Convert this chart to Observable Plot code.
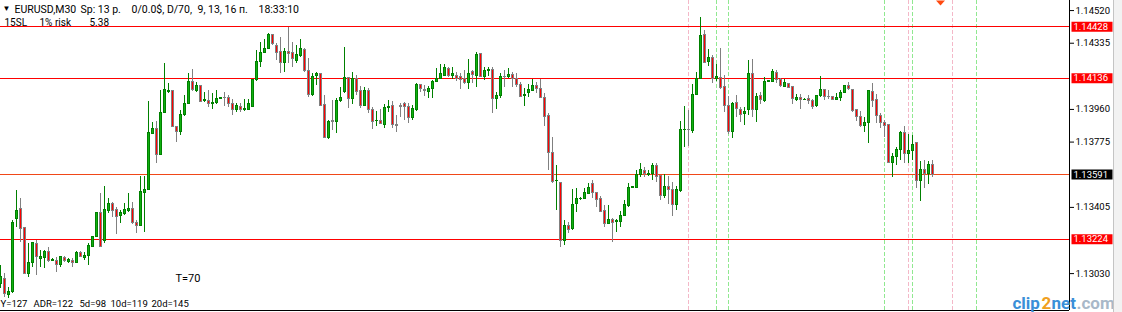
<!DOCTYPE html>
<html><head><meta charset="utf-8">
<script src="https://cdn.jsdelivr.net/npm/d3@7"></script>
<script src="https://cdn.jsdelivr.net/npm/@observablehq/plot@0.6"></script>
<style>
body{margin:0;background:#fff;}
#chart{position:relative;width:1122px;height:312px;overflow:hidden;}
#strip{position:absolute;left:1113px;top:0;width:8px;height:312px;background:#f2f2f2;border-left:1px solid #c4c4c4;}
</style></head><body><div id="chart"><div id="strip"></div></div>
<script>
// EURUSD M30 candles (bar index 0..233), prices
const candleOpen = [
1.12972,1.13000,1.12910,1.12925,1.13340,1.13397,1.13289,1.13029,1.13091,1.13199,
1.13112,1.13117,1.13155,1.13104,1.13104,1.13081,1.13119,1.13098,1.13104,1.13091,
1.13147,1.13119,1.13132,1.13183,1.13236,1.13376,1.13217,1.13387,1.13425,1.13391,
1.13357,1.13368,1.13387,1.13397,1.13317,1.13297,1.13489,1.13504,1.13822,1.13850,
1.13703,1.13942,1.14060,1.14067,1.13859,1.13831,1.13929,1.13992,1.14118,1.14067,
1.14095,1.14007,1.14010,1.13992,1.13995,1.14020,1.14026,1.14026,1.13992,1.13959,
1.13973,1.13954,1.13958,1.13976,1.14124,1.14228,1.14281,1.14303,1.14381,1.14322,
1.14284,1.14224,1.14284,1.14279,1.14237,1.14265,1.14299,1.14179,1.14039,1.14148,
1.14158,1.13986,1.13797,1.13897,1.13891,1.14007,1.14058,1.14139,1.14020,1.14133,
1.14067,1.13982,1.14067,1.13958,1.13893,1.13893,1.13869,1.13967,1.13980,1.13873,
1.13980,1.13992,1.13973,1.13910,1.13959,1.14101,1.14071,1.14058,1.14075,1.14114,
1.14133,1.14152,1.14190,1.14148,1.14152,1.14143,1.14133,1.14109,1.14171,1.14152,
1.14275,1.14143,1.14175,1.14184,1.14020,1.14035,1.14146,1.14143,1.14156,1.14133,
1.14101,1.14037,1.14052,1.14067,1.14094,1.14077,1.14026,1.13920,1.13714,1.13553,
1.13544,1.13212,1.13302,1.13280,1.13425,1.13453,1.13453,1.13482,1.13538,1.13487,
1.13450,1.13382,1.13312,1.13331,1.13323,1.13321,1.13359,1.13412,1.13516,1.13516,
1.13591,1.13614,1.13591,1.13595,1.13642,1.13582,1.13467,1.13523,1.13501,1.13419,
1.13497,1.13841,1.13846,1.13837,1.14043,1.14133,1.14384,1.14227,1.14252,1.14133,
1.14139,1.14089,1.13978,1.13831,1.13997,1.13954,1.13935,1.13954,1.14161,1.13954,
1.14038,1.14010,1.14118,1.14114,1.14167,1.14127,1.14086,1.14105,1.14089,1.14014,
1.14025,1.14014,1.14020,1.14010,1.13978,1.14035,1.14071,1.14033,1.14033,1.14016,
1.14025,1.14054,1.14093,1.14072,1.13954,1.13916,1.13865,1.13884,1.14061,1.14014,
1.13920,1.13884,1.13869,1.13655,1.13689,1.13731,1.13827,1.13708,1.13723,1.13768,
1.13553,1.13617,1.13595,1.13648];
const candleHigh = [
1.13076,1.13029,1.12953,1.13331,1.13501,1.13453,1.13293,1.13199,1.13208,1.13217,
1.13161,1.13161,1.13180,1.13115,1.13123,1.13127,1.13127,1.13114,1.13114,1.13155,
1.13155,1.13151,1.13199,1.13242,1.13378,1.13482,1.13523,1.13453,1.13435,1.13406,
1.13387,1.13425,1.13482,1.13435,1.13331,1.13582,1.13582,1.14005,1.13888,1.13893,
1.14067,1.14218,1.14105,1.14070,1.13861,1.13955,1.14039,1.14165,1.14184,1.14114,
1.14097,1.14058,1.14067,1.14048,1.14067,1.14028,1.14058,1.14039,1.14014,1.13992,
1.13992,1.14014,1.14014,1.14131,1.14294,1.14341,1.14354,1.14392,1.14384,1.14332,
1.14369,1.14303,1.14422,1.14341,1.14322,1.14354,1.14303,1.14246,1.14162,1.14171,
1.14162,1.14039,1.13897,1.14010,1.14020,1.14086,1.14313,1.14143,1.14171,1.14152,
1.14090,1.14082,1.14077,1.13969,1.13948,1.13959,1.13986,1.14010,1.14005,1.13925,
1.13992,1.13997,1.13992,1.13982,1.14105,1.14103,1.14095,1.14090,1.14124,1.14190,
1.14214,1.14214,1.14195,1.14195,1.14171,1.14162,1.14180,1.14241,1.14180,1.14281,
1.14279,1.14199,1.14199,1.14195,1.14058,1.14162,1.14180,1.14190,1.14169,1.14162,
1.14114,1.14077,1.14101,1.14129,1.14114,1.14128,1.14048,1.13935,1.13799,1.13642,
1.13546,1.13331,1.13317,1.13506,1.13510,1.13462,1.13510,1.13542,1.13557,1.13491,
1.13467,1.13416,1.13416,1.13340,1.13334,1.13384,1.13444,1.13542,1.13524,1.13614,
1.13652,1.13629,1.13614,1.13652,1.13655,1.13586,1.13591,1.13580,1.13544,1.13525,
1.13891,1.13976,1.13954,1.14101,1.14167,1.14482,1.14407,1.14297,1.14265,1.14214,
1.14303,1.14152,1.14033,1.13997,1.14038,1.13972,1.13969,1.14237,1.14241,1.14048,
1.14057,1.14142,1.14126,1.14184,1.14180,1.14133,1.14129,1.14108,1.14091,1.14042,
1.14042,1.14022,1.14038,1.14016,1.14038,1.14146,1.14073,1.14067,1.14035,1.14052,
1.14067,1.14095,1.14110,1.14074,1.13957,1.13950,1.13916,1.14069,1.14108,1.14042,
1.13935,1.13897,1.13874,1.13712,1.13746,1.13835,1.13863,1.13818,1.13812,1.13774,
1.13665,1.13670,1.13665,1.13670];
const candleLow = [
1.12944,1.12896,1.12887,1.12915,1.13293,1.13208,1.13025,1.13010,1.13066,1.13019,
1.13066,1.13057,1.13095,1.13098,1.13038,1.13063,1.13095,1.13085,1.13066,1.13090,
1.13122,1.13104,1.13076,1.13180,1.13234,1.13178,1.13199,1.13368,1.13349,1.13251,
1.13312,1.13359,1.13378,1.13308,1.13259,1.13295,1.13265,1.13502,1.13820,1.13652,
1.13701,1.13940,1.14048,1.13856,1.13774,1.13812,1.13920,1.13989,1.14061,1.14054,
1.13998,1.14001,1.13969,1.13958,1.13988,1.14014,1.13976,1.13973,1.13925,1.13941,
1.13944,1.13950,1.13954,1.13969,1.14120,1.14199,1.14275,1.14301,1.14322,1.14237,
1.14165,1.14171,1.14218,1.14199,1.14218,1.14256,1.14171,1.14029,1.14033,1.14095,
1.13980,1.13793,1.13788,1.13841,1.13825,1.14001,1.14048,1.13967,1.13988,1.14039,
1.13967,1.13978,1.13935,1.13844,1.13863,1.13874,1.13854,1.13944,1.13850,1.13831,
1.13912,1.13897,1.13878,1.13897,1.13950,1.14058,1.14033,1.14024,1.14020,1.14111,
1.14129,1.14148,1.14143,1.14128,1.14120,1.14073,1.14101,1.14073,1.14105,1.14086,
1.14143,1.14124,1.14148,1.13939,1.13958,1.14020,1.14086,1.14133,1.14086,1.14086,
1.14029,1.13976,1.14026,1.14061,1.14052,1.14020,1.13863,1.13614,1.13542,1.13387,
1.13180,1.13189,1.13255,1.13274,1.13378,1.13446,1.13450,1.13478,1.13453,1.13402,
1.13374,1.13289,1.13308,1.13204,1.13265,1.13293,1.13355,1.13406,1.13510,1.13510,
1.13576,1.13576,1.13582,1.13557,1.13548,1.13444,1.13457,1.13419,1.13355,1.13387,
1.13491,1.13746,1.13750,1.13825,1.14039,1.14127,1.14218,1.14203,1.14108,1.14120,
1.14071,1.13944,1.13818,1.13797,1.13916,1.13887,1.13869,1.13925,1.13916,1.13887,
1.13987,1.14001,1.14112,1.14110,1.14105,1.14086,1.14082,1.14076,1.13987,1.14004,
1.13959,1.14008,1.13987,1.13959,1.13969,1.14029,1.14010,1.14014,1.14010,1.14010,
1.14004,1.14048,1.14067,1.13944,1.13893,1.13859,1.13831,1.13768,1.13972,1.13878,
1.13850,1.13802,1.13651,1.13576,1.13642,1.13670,1.13655,1.13655,1.13670,1.13514,
1.13440,1.13510,1.13532,1.13572];
const candleClose = [
1.13010,1.12915,1.12925,1.13317,1.13387,1.13283,1.13029,1.13091,1.13202,1.13123,
1.13123,1.13155,1.13104,1.13106,1.13081,1.13123,1.13104,1.13108,1.13091,1.13149,
1.13123,1.13129,1.13189,1.13236,1.13376,1.13180,1.13391,1.13425,1.13387,1.13349,
1.13372,1.13393,1.13397,1.13316,1.13302,1.13495,1.13504,1.13827,1.13850,1.13703,
1.13942,1.14071,1.14067,1.13859,1.13831,1.13929,1.13992,1.14118,1.14071,1.14095,
1.14001,1.14016,1.13992,1.13999,1.14020,1.14022,1.14022,1.13992,1.13959,1.13982,
1.13954,1.13965,1.13988,1.14129,1.14231,1.14281,1.14303,1.14384,1.14328,1.14281,
1.14224,1.14284,1.14275,1.14246,1.14271,1.14303,1.14177,1.14039,1.14146,1.14158,
1.13982,1.13797,1.13891,1.13890,1.14010,1.14022,1.14139,1.14020,1.14133,1.14058,
1.13982,1.14063,1.13958,1.13888,1.13897,1.13878,1.13969,1.13976,1.13869,1.13867,
1.13973,1.13973,1.13910,1.13963,1.14101,1.14077,1.14063,1.14077,1.14118,1.14133,
1.14158,1.14195,1.14148,1.14158,1.14133,1.14128,1.14111,1.14162,1.14156,1.14271,
1.14146,1.14180,1.14184,1.14020,1.14037,1.14143,1.14143,1.14156,1.14133,1.14101,
1.14033,1.14043,1.14071,1.14094,1.14075,1.14026,1.13916,1.13712,1.13548,1.13557,
1.13212,1.13297,1.13278,1.13416,1.13453,1.13455,1.13486,1.13516,1.13487,1.13448,
1.13378,1.13312,1.13336,1.13317,1.13327,1.13359,1.13416,1.13516,1.13518,1.13591,
1.13618,1.13595,1.13595,1.13642,1.13580,1.13467,1.13523,1.13504,1.13419,1.13501,
1.13841,1.13846,1.13841,1.14044,1.14133,1.14378,1.14224,1.14252,1.14133,1.14146,
1.14082,1.13978,1.13831,1.13991,1.13963,1.13929,1.13948,1.14161,1.13954,1.14033,
1.14014,1.14118,1.14120,1.14174,1.14127,1.14091,1.14110,1.14082,1.14020,1.14025,
1.14014,1.14016,1.14006,1.13972,1.14035,1.14071,1.14029,1.14029,1.14016,1.14025,
1.14054,1.14093,1.14074,1.13950,1.13916,1.13865,1.13884,1.14067,1.14006,1.13920,
1.13882,1.13865,1.13655,1.13693,1.13731,1.13827,1.13708,1.13727,1.13761,1.13553,
1.13617,1.13595,1.13648,1.13591];

// horizontal levels and right-axis labels
const levelPrices = [1.14428, 1.14136, 1.13591, 1.13224];
const bidPrice = 1.13591;
const axisTicks = [1.14520, 1.14335, 1.13960, 1.13775, 1.13405, 1.13030];
// vertical time markers (bar index)
const pinkMarks = [172, 227, 238];
const greenMarks = [179, 182, 221, 228, 244];
const arrowMark = [235];

// ---- build table
const candles = candleOpen.map((o, i) => ({
  i, open: o, high: candleHigh[i], low: candleLow[i], close: candleClose[i],
  up: candleClose[i] >= o
}));

const BULL_LINE = "#008000", BULL_FILL = "#10b010";
const BEAR_LINE = "#808080", BEAR_FILL = "#ff0000";
const FONT = "Roboto, Liberation Sans, Arial, sans-serif";

const yDomain = [1.12821, 1.14577];
const xDomain = [0, 267.25];

const boxSymbol = {draw(ctx) { ctx.rect(-20.5, -5, 41, 10); }};
const downTri = {draw(ctx) { ctx.moveTo(-4.5, 0); ctx.lineTo(4.5, 0); ctx.lineTo(0, 5); ctx.closePath(); }};

function label(t, x, y, opts = {}) {
  return Plot.text([t], {text: d => d, frameAnchor: "top-left", dx: x, dy: y,
    textAnchor: "start", lineAnchor: "bottom", fill: "#000", fontSize: 10.5, ...opts});
}

const chart = Plot.plot({
  width: 1122, height: 312,
  marginLeft: 0, marginRight: 53, marginTop: 0, marginBottom: 2,
  style: {fontFamily: FONT, background: "#fff", overflow: "visible"},
  x: {domain: xDomain, axis: null},
  y: {domain: yDomain},
  marks: [
    Plot.ruleX(pinkMarks, {x: d => d, stroke: "#f4b8c8", strokeDasharray: "4,2", shapeRendering: "crispEdges"}),
    Plot.ruleX(greenMarks, {x: d => d, stroke: "#90e890", strokeDasharray: "4,2", shapeRendering: "crispEdges"}),
    Plot.ruleY(levelPrices, {y: d => d, stroke: d => d === bidPrice ? "#f04818" : "#ff0000", shapeRendering: "crispEdges"}),
    Plot.ruleX(candles, {x: "i", y1: "low", y2: "high", stroke: d => d.up ? BULL_LINE : BEAR_LINE, shapeRendering: "crispEdges"}),
    Plot.rect(candles, {x1: d => d.i - 0.25, x2: d => d.i + 0.25, dx: 0.5, y1: "open", y2: "close",
      fill: d => d.up ? BULL_FILL : BEAR_FILL, stroke: d => d.up ? BULL_LINE : BEAR_LINE, shapeRendering: "crispEdges"}),
    Plot.ruleY([yDomain[0]], {stroke: "#000", shapeRendering: "crispEdges"}),
    Plot.ruleX([xDomain[1]], {stroke: "#000", shapeRendering: "crispEdges"}),
    Plot.axisY({anchor: "right", ticks: axisTicks, tickFormat: d => d.toFixed(5), tickSize: 4, tickPadding: 2,
      fontSize: 9.5, label: null, stroke: "#000", fill: "#000"}),
    Plot.dot(levelPrices, {y: d => d, frameAnchor: "right", dx: 22.5, symbol: boxSymbol, r: 5,
      fill: d => d === bidPrice ? "#000" : "#ff0000", stroke: "none"}),
    Plot.text(levelPrices, {y: d => d, text: d => d.toFixed(5), frameAnchor: "right", dx: 4,
      textAnchor: "start", fill: "#fff", fontSize: 9.5}),
    Plot.dot(arrowMark, {x: d => d, frameAnchor: "top", symbol: downTri, r: 5, fill: "#ff4a10", stroke: "none"}),
    // header texts
    label("▼", 2, 10, {fontSize: 8}),
    label("EURUSD,M30", 14, 12),
    label("Sp: 13 р.", 80, 12),
    label("0/0.0$, D/70,", 131, 12),
    label("9, 13, 16 п.", 197, 12),
    label("18:33:10", 258, 12),
    label("15SL", 4, 25, {fontSize: 10}),
    label("1% risk", 39, 25, {fontSize: 10}),
    label("5.38", 89, 25, {fontSize: 10}),
    label("T=70", 175, 281, {fontSize: 11}),
    label("Y=127", 0, 306, {fontSize: 9.5}),
    label("ADR=122", 33, 306, {fontSize: 9.5}),
    label("5d=98", 79, 306, {fontSize: 9.5}),
    label("10d=119", 110, 306, {fontSize: 9.5}),
    label("20d=145", 151, 306, {fontSize: 9.5}),
    // watermark
    label("clip", 1012, 308, {fontSize: 17, fontWeight: "bold", fill: "#3a8fd8"}),
    label("2", 1041, 308, {fontSize: 17, fontWeight: "bold", fill: "#f0a020"}),
    label("net", 1051, 308, {fontSize: 17, fontWeight: "bold", fill: "#3a8fd8"}),
    label(".com", 1076, 308, {fontSize: 17, fontWeight: "bold", fill: "#a8b8c8"})
  ]
});
document.getElementById("chart").prepend(chart);
</script>
</body></html>
